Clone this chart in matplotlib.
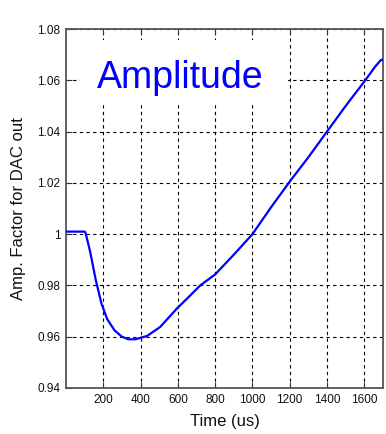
import matplotlib
matplotlib.use("Agg")
import matplotlib.pyplot as plt
from matplotlib.patches import Rectangle

# amplitude correction factor vs time
time_us = [0, 100, 105, 130, 160, 190, 220, 260, 300, 335, 372, 435, 505, 595, 665,
           720, 800, 900, 1000, 1100, 1200, 1300, 1400, 1500, 1600, 1660, 1690, 1700]
amp_factor = [1.001, 1.001, 1.0005, 0.993, 0.982, 0.973, 0.967, 0.9625, 0.960, 0.959,
              0.959, 0.9603, 0.9638, 0.971, 0.976, 0.980, 0.9843, 0.992, 1.0, 1.0105,
              1.0205, 1.030, 1.040, 1.050, 1.0595, 1.0655, 1.068, 1.068]

xticks = [200, 400, 600, 800, 1000, 1200, 1400, 1600]
yticks = [0.94, 0.96, 0.98, 1.0, 1.02, 1.04, 1.06, 1.08]
ytick_labels = ["0.94", "0.96", "0.98", "1", "1.02", "1.04", "1.06", "1.08"]

plt.rcParams['font.family'] = ['Liberation Sans', 'DejaVu Sans']

fig = plt.figure(figsize=(3.86, 4.34), dpi=100)
ax = fig.add_axes([0.171, 0.106, 0.821, 0.827])

ax.plot(time_us, amp_factor, color=(0, 0, 1), linewidth=1.6, zorder=5)

ax.set_xlim(0, 1700)
ax.set_ylim(0.94, 1.08)
ax.set_xticks(xticks)
ax.set_yticks(yticks)
ax.set_yticklabels(ytick_labels)
ax.tick_params(direction='in', length=4, width=0.8, labelsize=8.5, pad=4,
               top=True, right=False, colors='#333333', labelcolor='#111111')

ax.grid(True, color='black', linestyle=(0, (3, 3)), linewidth=0.8)
ax.set_axisbelow(True)

for s in ax.spines.values():
    s.set_color('#555555')
    s.set_linewidth(1.3)

# white box behind the title text, hides the grid there
ax.add_patch(Rectangle((0.044, 0.788), 0.656, 0.181, transform=ax.transAxes,
                       facecolor='white', edgecolor='none', zorder=2))
ax.text(0.36, 0.836, "Amplitude", transform=ax.transAxes, color=(0, 0, 1),
        fontsize=27, ha='center', va='baseline', zorder=3)

ax.set_xlabel("Time (us)", fontsize=12, labelpad=6, color='#111111')
ax.set_ylabel("Amp. Factor for DAC out", fontsize=12, labelpad=8, color='#111111')

fig.savefig("out.png", dpi=100)
